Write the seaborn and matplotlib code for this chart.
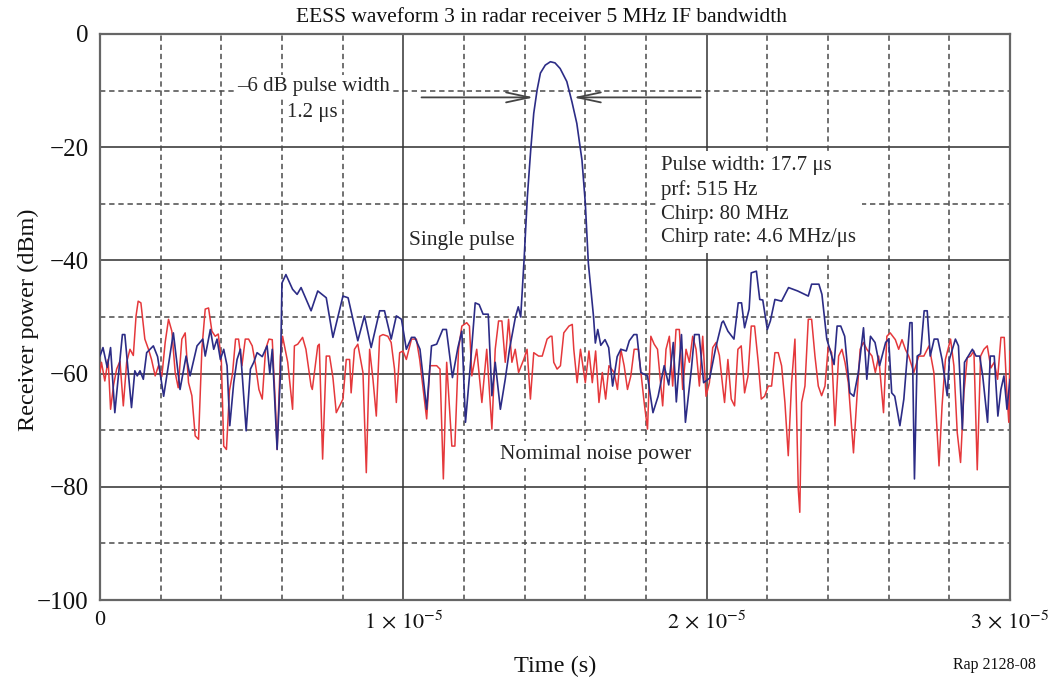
import numpy as np
import pandas as pd
import matplotlib
matplotlib.use("Agg")
import matplotlib.pyplot as plt
import seaborn as sns

# Received pulse (time in microseconds, power in dBm)
pulse_t_us = [
    0.00, 0.10, 0.24, 0.35, 0.49, 0.63, 0.74, 0.82, 1.04, 1.15, 1.23, 1.32, 1.43, 1.54, 1.65, 1.76,
    1.90, 2.10, 2.42, 2.64, 2.84, 2.97, 3.20, 3.39, 3.47, 3.64, 3.75, 3.86, 3.97, 4.08, 4.19, 4.28,
    4.41, 4.52, 4.63, 4.82, 4.96, 5.07, 5.18, 5.35, 5.51, 5.60, 5.68, 5.84, 5.95, 6.00, 6.13, 6.35,
    6.50, 6.63, 6.96, 7.18, 7.46, 7.68, 8.01, 8.18, 8.50, 8.72, 8.94, 9.22, 9.38, 9.60, 9.77, 9.94,
    10.10, 10.27, 10.38, 10.55, 10.77, 10.93, 11.10, 11.30, 11.42, 11.62, 11.80, 11.93, 12.05, 12.20,
    12.37, 12.50, 12.63, 12.80, 12.92, 13.03, 13.20, 13.36, 13.50, 13.70, 13.79, 13.87, 13.98, 14.09,
    14.20, 14.30, 14.41, 14.52, 14.68, 14.85, 15.00, 15.17, 15.39, 15.56, 15.72, 15.89, 16.00, 16.10,
    16.27, 16.33, 16.41, 16.51, 16.65, 16.77, 16.90, 17.05, 17.17, 17.35, 17.45, 17.60, 17.70, 17.83,
    18.05, 18.23, 18.40, 18.60, 18.75, 18.90, 19.00, 19.17, 19.30, 19.50, 19.60, 19.75, 19.90, 20.10,
    20.30, 20.50, 20.55, 20.70, 20.90, 21.04, 21.15, 21.25, 21.40, 21.47, 21.64, 21.75, 21.85, 22.00,
    22.10, 22.25, 22.47, 22.70, 23.00, 23.35, 23.46, 23.70, 23.80, 23.96, 24.06, 24.20, 24.30, 24.42,
    24.55, 24.72, 24.85, 25.00, 25.17, 25.28, 25.40, 25.55, 25.70, 25.90, 26.00, 26.10, 26.20, 26.37,
    26.50, 26.70, 26.77, 26.85, 26.94, 27.05, 27.17, 27.27, 27.37, 27.50, 27.62, 27.76, 27.93, 28.00,
    28.20, 28.30, 28.43, 28.50, 28.76, 28.88, 29.00, 29.10, 29.26, 29.35, 29.48, 29.60, 29.70, 29.80,
    29.90, 30.00,
]
pulse_dbm = [
    -56.9, -55.4, -58.9, -55.4, -66.9, -59.2, -53.1, -53.1, -66.0, -59.5, -60.4, -59.5, -61.0, -56.3, -55.7, -55.1,
    -57.0, -64.0, -52.8, -62.8, -56.9, -60.4, -55.1, -53.9, -56.9, -52.2, -55.7, -53.9, -57.5, -55.7, -58.6, -69.2,
    -61.6, -57.5, -55.7, -70.1, -59.2, -58.0, -56.3, -57.0, -55.1, -60.0, -55.7, -73.4, -60.0, -44.0, -42.5, -45.1,
    -46.0, -44.8, -48.9, -45.4, -46.6, -53.6, -46.3, -46.6, -54.2, -49.8, -55.4, -48.9, -48.9, -53.9, -49.8, -50.4,
    -55.7, -53.6, -53.6, -55.7, -66.3, -55.1, -54.8, -52.2, -52.2, -60.7, -55.4, -52.5, -68.6, -59.2,
    -47.5, -47.8, -49.5, -49.5, -63.9, -58.0, -66.3, -61.0, -55.7, -49.9, -48.2, -50.0, -40.0, -28.7,
    -20.5, -14.0, -9.9, -6.9, -5.5, -4.9, -5.1, -6.1, -8.4, -12.0, -15.8, -22.3, -29.9, -40.5,
    -49.9, -54.6, -52.2, -55.0, -54.0, -55.4, -62.2, -57.0, -55.7, -56.0, -54.2, -53.1, -53.1, -59.8,
    -60.4, -66.9, -64.0, -58.6, -62.0, -54.5, -65.0, -53.1, -68.6, -59.0, -53.1, -53.1, -61.6, -60.8,
    -55.4, -51.0, -50.7, -52.5, -53.9, -47.5, -47.5, -51.9, -48.6, -42.2, -41.9, -46.9, -47.0, -52.2,
    -50.7, -46.9, -47.2, -44.8, -45.4, -46.3, -44.2, -44.2, -46.0, -53.9, -55.7, -58.4, -51.6, -51.6,
    -53.4, -63.4, -64.0, -59.8, -51.9, -61.0, -53.4, -54.5, -58.6, -54.5, -53.9, -63.4, -64.0, -69.2,
    -64.5, -51.0, -51.0, -78.6, -56.9, -56.5, -48.9, -48.9, -56.9, -53.9, -53.9, -57.5, -63.9, -57.5,
    -53.9, -55.1, -69.8, -58.0, -55.7, -56.9, -56.9, -60.4, -68.6, -56.9, -56.9, -67.5, -62.8, -60.4,
    -66.3, -61.0,
]

# Receiver noise alone (time in microseconds, power in dBm)
noise_t_us = [
    0.00, 0.05, 0.16, 0.27, 0.35, 0.45, 0.55, 0.66, 0.77, 0.88, 0.99, 1.10, 1.19, 1.26, 1.35, 1.48,
    1.60, 1.70, 1.82, 1.93, 2.04, 2.15, 2.26, 2.37, 2.48, 2.58, 2.70, 2.81, 2.92, 3.03, 3.14, 3.25,
    3.36, 3.47, 3.58, 3.69, 3.80, 3.90, 4.00, 4.08, 4.17, 4.27, 4.37, 4.47, 4.57, 4.68, 4.79, 4.90,
    5.02, 5.13, 5.24, 5.35, 5.46, 5.57, 5.68, 5.79, 5.84, 5.95, 6.02, 6.19, 6.35, 6.41, 6.52, 6.68,
    6.79, 6.96, 7.00, 7.18, 7.23, 7.34, 7.46, 7.57, 7.68, 7.79, 7.90, 8.01, 8.12, 8.23, 8.28, 8.39,
    8.50, 8.67, 8.78, 8.89, 9.00, 9.11, 9.22, 9.33, 9.49, 9.60, 9.71, 9.77, 9.88, 9.99, 10.10, 10.27,
    10.43, 10.54, 10.77, 10.88, 11.10, 11.21, 11.32, 11.43, 11.60, 11.70, 11.82, 11.93, 12.09, 12.18,
    12.26, 12.42, 12.59, 12.75, 12.92, 13.03, 13.14, 13.25, 13.36, 13.47, 13.58, 13.69, 13.80, 13.97,
    14.08, 14.19, 14.30, 14.46, 14.58, 14.74, 14.85, 14.90, 14.96, 15.07, 15.18, 15.29, 15.46, 15.57,
    15.62, 15.73, 15.84, 16.00, 16.12, 16.23, 16.34, 16.45, 16.56, 16.67, 16.78, 16.95, 17.06, 17.17,
    17.28, 17.39, 17.50, 17.61, 17.75, 17.94, 18.05, 18.16, 18.27, 18.38, 18.55, 18.66, 18.77, 18.88,
    18.99, 19.10, 19.21, 19.32, 19.43, 19.54, 19.65, 19.76, 19.87, 19.98, 20.09, 20.20, 20.31, 20.42,
    20.54, 20.59, 20.70, 20.81, 20.92, 21.03, 21.14, 21.25, 21.36, 21.47, 21.58, 21.70, 21.80, 21.91,
    22.03, 22.14, 22.25, 22.36, 22.47, 22.58, 22.69, 22.80, 22.91, 23.02, 23.07, 23.13, 23.24, 23.35,
    23.46, 23.57, 23.68, 23.79, 23.90, 24.01, 24.12, 24.23, 24.35, 24.46, 24.56, 24.67, 24.84, 24.95,
    25.06, 25.17, 25.28, 25.45, 25.56, 25.67, 25.83, 25.94, 26.05, 26.22, 26.33, 26.44, 26.55, 26.66,
    26.83, 26.99, 27.16, 27.33, 27.49, 27.66, 27.76, 27.87, 28.04, 28.15, 28.26, 28.37, 28.48, 28.59,
    28.70, 28.81, 28.92, 29.03, 29.14, 29.25, 29.37, 29.48, 29.59, 29.70, 29.81, 29.89, 29.96, 30.00,
]
noise_dbm = [
    -59.8, -58.0, -61.3, -57.5, -66.3, -62.0, -59.2, -57.8, -65.7, -58.0, -55.7, -56.8, -49.8, -47.2, -47.5, -53.9,
    -55.7, -57.5, -60.4, -58.6, -60.5, -54.5, -50.4, -52.5, -59.8, -62.5, -53.9, -52.8, -61.6, -63.9, -71.0, -71.6,
    -55.7, -48.6, -48.4, -52.5, -53.4, -53.0, -57.5, -72.8, -73.4, -63.0, -60.0, -53.9, -53.9, -58.6, -53.9, -53.9,
    -55.1, -58.5, -62.8, -64.5, -55.7, -53.9, -54.0, -66.3, -73.4, -56.9, -53.4, -58.0, -66.3, -55.1, -54.8, -53.6,
    -55.7, -62.2, -62.8, -55.1, -54.8, -75.1, -56.9, -56.9, -60.7, -66.9, -65.7, -64.5, -57.5, -57.5, -63.4, -55.7,
    -54.8, -59.8, -77.5, -55.7, -61.0, -67.5, -53.4, -53.1, -53.4, -54.5, -59.2, -65.1, -56.3, -56.0, -57.5, -53.9,
    -53.9, -57.5, -68.0, -58.6, -58.6, -59.2, -78.6, -58.0, -72.8, -72.8, -55.7, -51.6, -51.0, -51.6,
    -60.4, -55.7, -65.1, -55.7, -69.8, -55.7, -50.7, -50.7, -58.0, -50.4, -58.0, -55.7, -59.8, -57.5,
    -55.7, -64.5, -56.3, -56.9, -56.9, -53.9, -53.4, -53.4, -58.0, -59.2, -58.6, -52.8, -51.6, -51.3,
    -55.7, -61.6, -55.7, -61.6, -56.0, -61.6, -56.0, -65.1, -59.8, -64.5, -58.6, -59.8, -62.8, -55.7,
    -58.6, -62.8, -60.4, -55.7, -55.7, -65.1, -69.8, -53.4, -54.8, -55.7, -65.7, -55.7, -53.4, -62.2,
    -52.2, -52.2, -62.8, -55.7, -58.0, -53.4, -55.7, -62.2, -53.4, -64.0, -61.6, -55.4, -54.5, -56.8,
    -62.8, -65.1, -57.5, -64.5, -65.7, -55.7, -55.1, -63.4, -60.5, -51.6, -51.6, -58.0, -64.5, -64.0,
    -62.2, -62.2, -56.3, -56.3, -58.6, -65.1, -74.5, -61.6, -53.9, -80.4, -84.5, -65.1, -62.2, -50.4,
    -50.4, -56.9, -62.2, -63.9, -62.2, -55.1, -56.3, -69.2, -56.9, -55.7, -58.0, -61.6, -74.0, -64.5,
    -55.7, -54.5, -55.7, -56.9, -59.8, -56.9, -66.9, -53.4, -52.8, -54.0, -55.7, -54.0, -55.7, -56.9,
    -59.8, -56.9, -56.9, -55.1, -59.8, -76.3, -65.7, -57.5, -53.9, -58.6, -70.4, -75.7, -63.4, -57.2,
    -56.9, -56.0, -77.0, -56.9, -55.7, -55.1, -59.0, -58.0, -61.0, -53.6, -53.6, -62.8, -68.6, -56.0,
]

# Axis ticks and grid levels
y_ticks = [0, -20, -40, -60, -80, -100]
y_tick_labels = ["0", "\u221220", "\u221240", "\u221260", "\u221280", "\u2212100"]
y_minor = [-10, -30, -50, -70, -90]
x_ticks = [0, 1e-5, 2e-5, 3e-5]
x_tick_labels = ["0", r"$1\,\times\,10^{-5}$", r"$2\,\times\,10^{-5}$", r"$3\,\times\,10^{-5}$"]
x_minor_us = [2, 4, 6, 8, 12, 14, 16, 18, 22, 24, 26, 28]

pulse_df = pd.DataFrame({"t": np.array(pulse_t_us) * 1e-6, "p": pulse_dbm})
noise_df = pd.DataFrame({"t": np.array(noise_t_us) * 1e-6, "p": noise_dbm})

sns.set_theme(style="white")
plt.rcParams["font.family"] = ["Liberation Serif", "DejaVu Serif"]
plt.rcParams["mathtext.fontset"] = "stix"

fig = plt.figure(figsize=(10.51, 6.80), dpi=100)
ax = fig.add_axes([0.0951, 0.1176, 0.8659, 0.8324])

grid_col = "#4a4a4a"
for y in y_ticks[1:-1]:
    ax.axhline(y, color="#5a5a5a", lw=1.4, zorder=1)
for y in y_minor:
    ax.axhline(y, color=grid_col, lw=1.1, ls=(0, (3.5, 2.5)), zorder=1)
for x in x_ticks[1:-1]:
    ax.axvline(x, color="#333333", lw=1.1, zorder=1)
for x in x_minor_us:
    ax.axvline(x * 1e-6, color=grid_col, lw=1.1, ls=(0, (3.5, 2.5)), zorder=1)

sns.lineplot(data=noise_df, x="t", y="p", ax=ax, color="#e5383b", lw=1.1,
             estimator=None, sort=False, zorder=3)
sns.lineplot(data=pulse_df, x="t", y="p", ax=ax, color="#2c2c86", lw=1.2,
             estimator=None, sort=False, zorder=4)

ax.set_xlim(0, 3e-5)
ax.set_ylim(-100, 0)
ax.set_yticks(y_ticks)
ax.set_yticklabels(y_tick_labels)
ax.set_xticks(x_ticks)
ax.set_xticklabels(x_tick_labels)
ax.tick_params(axis="both", length=0, labelsize=18, colors="#111111", pad=8)
for lab in ax.get_xticklabels():
    lab.set_fontsize(16)
for s in ax.spines.values():
    s.set_color("#666666")
    s.set_linewidth(1.6)

ax.set_xlabel("Time (s)", fontsize=17.5, labelpad=16, color="#111111")
ax.set_ylabel("Receiver power (dBm)", fontsize=17.5, color="#111111")
ax.yaxis.set_label_coords(-0.067, 0.495)

fig.text(0.515, 0.974, "EESS waveform 3 in radar receiver 5 MHz IF bandwidth",
         ha="center", va="center", fontsize=15.5, color="#111111")
fig.text(0.986, 0.022, "Rap 2128-08", ha="right", va="center",
         fontsize=11.5, color="#111111")

box = dict(facecolor="white", edgecolor="none", pad=1.5)
ax.text(7.05e-6, -9.3, "\u20136 dB pulse width", ha="center", va="center",
        fontsize=15, bbox=box, zorder=6)
ax.text(7.0e-6, -13.8, "1.2 \u03bcs", ha="center", va="center",
        fontsize=15, bbox=box, zorder=6)
ax.text(10.2e-6, -36.4, "Single pulse", ha="left", va="center",
        fontsize=15.5, bbox=box, zorder=6)
ax.text(13.2e-6, -74.3, "Nomimal noise power", ha="left", va="center",
        fontsize=15.5, bbox=dict(facecolor="white", edgecolor="none", pad=3), zorder=6)
ax.text(18.5e-6, -21.6,
        "Pulse width: 17.7 \u03bcs\nprf: 515 Hz\nChirp: 80 MHz\nChirp rate: 4.6 MHz/\u03bcs",
        ha="left", va="top", fontsize=15, linespacing=1.33,
        bbox=dict(facecolor="white", edgecolor="none", pad=4), zorder=6)

arrow = dict(arrowstyle="->,head_length=1.4,head_width=0.3", color="#444444", lw=1.3,
             shrinkA=0, shrinkB=0)
ax.annotate("", xy=(14.3e-6, -11.2), xytext=(10.6e-6, -11.2), arrowprops=arrow, zorder=5)
ax.annotate("", xy=(15.6e-6, -11.2), xytext=(19.8e-6, -11.2), arrowprops=arrow, zorder=5)

fig.savefig("out.png", dpi=100, facecolor="white")
